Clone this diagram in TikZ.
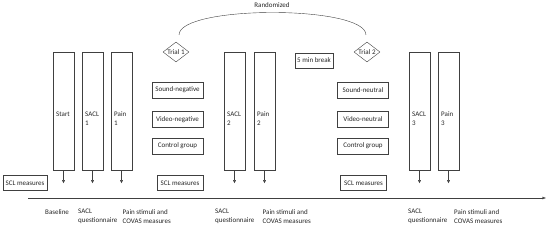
\documentclass[tikz,border=0pt]{standalone}
\usepackage{fontspec}
\setmainfont{Carlito}
\usetikzlibrary{shapes.geometric,arrows.meta}

\begin{document}
\begin{tikzpicture}[x=1pt,y=-1pt,
  every node/.style={font=\fontsize{7}{9}\selectfont,text=black!85},
  tallbox/.style={draw=black!75,minimum width=21pt,minimum height=118pt,inner sep=0pt},
  smallbox/.style={draw=black!75,minimum width=51pt,minimum height=16pt,inner sep=1pt},
  sclbox/.style={draw=black!75,minimum width=46pt,minimum height=15pt,inner sep=1pt},
  trialbox/.style={draw=black!75,shape=diamond,minimum width=26pt,minimum height=20pt,inner sep=-2.5pt},
  note/.style={anchor=north west,align=left,inner sep=0pt},
  measure/.style={draw=black!75,-{Latex[length=3pt,width=3pt]}}]
\useasboundingbox (0,0) rectangle (550,227);
% columns
\node[tallbox] (start) at (63.5,111) {};
\node[tallbox] (sacl1) at (92.5,111) {};
\node[tallbox] (pain1) at (121.5,111) {};
\node[tallbox] (sacl2) at (234.5,111) {};
\node[tallbox] (pain2) at (264.5,111) {};
\node[tallbox] (sacl3) at (419.5,111) {};
\node[tallbox] (pain3) at (448.5,111) {};
\node[note] (tstart) at ([xshift=-7.5pt,yshift=-0.5pt]start.center) {Start};
\node[note] (tsacl1) at ([xshift=-7.5pt,yshift=-0.5pt]sacl1.center) {SACL\\1};
\node[note] (tpain1) at ([xshift=-7.5pt,yshift=-0.5pt]pain1.center) {Pain\\1};
\node[note] (tsacl2) at ([xshift=-7.5pt,yshift=-0.5pt]sacl2.center) {SACL\\2};
\node[note] (tpain2) at ([xshift=-7.5pt,yshift=-0.5pt]pain2.center) {Pain\\2};
\node[note] (tsacl3) at ([xshift=-7.5pt,yshift=-0.5pt]sacl3.center) {SACL\\3};
\node[note] (tpain3) at ([xshift=-7.5pt,yshift=-0.5pt]pain3.center) {Pain\\3};
% conditions
\node[trialbox] (trial1) at (176,52) {Trial 1};
\node[trialbox] (trial2) at (367,52) {Trial 2};
\node[smallbox] (sndneg) at (177.5,90) {Sound-negative};
\node[smallbox] (vidneg) at (177.5,119.5) {Video-negative};
\node[smallbox] (ctrlneg) at (177.5,146) {Control group};
\node[sclbox] (sclmid) at (180,183) {SCL measures};
\node[sclbox,minimum width=38pt] (brk) at (314,60.5) {5 min break};
\node[smallbox] (sndneu) at (363,90) {Sound-neutral};
\node[smallbox] (vidneu) at (363,119.5) {Video-neutral};
\node[smallbox] (ctrlneu) at (363,146) {Control group};
\node[sclbox] (sclright) at (363.5,183) {SCL measures};
\node[sclbox,minimum width=44pt] (sclleft) at (25,183) {SCL measures};
% randomization arc
\coordinate (arcl) at (179,35);
\coordinate (arcr) at (366,35);
\draw[black!75] (arcl) .. controls (179,5) and (366,5) .. (arcr);
\node (rand) at (272,5) {Randomized};
% time line
\coordinate (tl0) at (28,198);
\coordinate (tl1) at (546,198);
\draw[black!75,-{Latex[length=3.5pt,width=3pt]}] (tl0) -- (tl1);
\foreach \b in {start,sacl1,pain1,sacl2,pain2,sacl3,pain3}
  \draw[measure] (\b.south) -- ++(0,13);
% labels under the line
\node[note] (lbase) at (45,209) {Baseline};
\node[note] (lsacl1) at (78,209) {SACL\\questionnaire};
\node[note] (lpain1) at (122.5,209) {Pain stimuli and\\COVAS measures};
\node[note] (lsacl2) at (215,209) {SACL\\questionnaire};
\node[note] (lpain2) at (262.5,209) {Pain stimuli and\\COVAS measures};
\node[note] (lsacl3) at (408,209) {SACL\\questionnaire};
\node[note] (lpain3) at (454,209) {Pain stimuli and\\COVAS measures};
\end{tikzpicture}
\end{document}
